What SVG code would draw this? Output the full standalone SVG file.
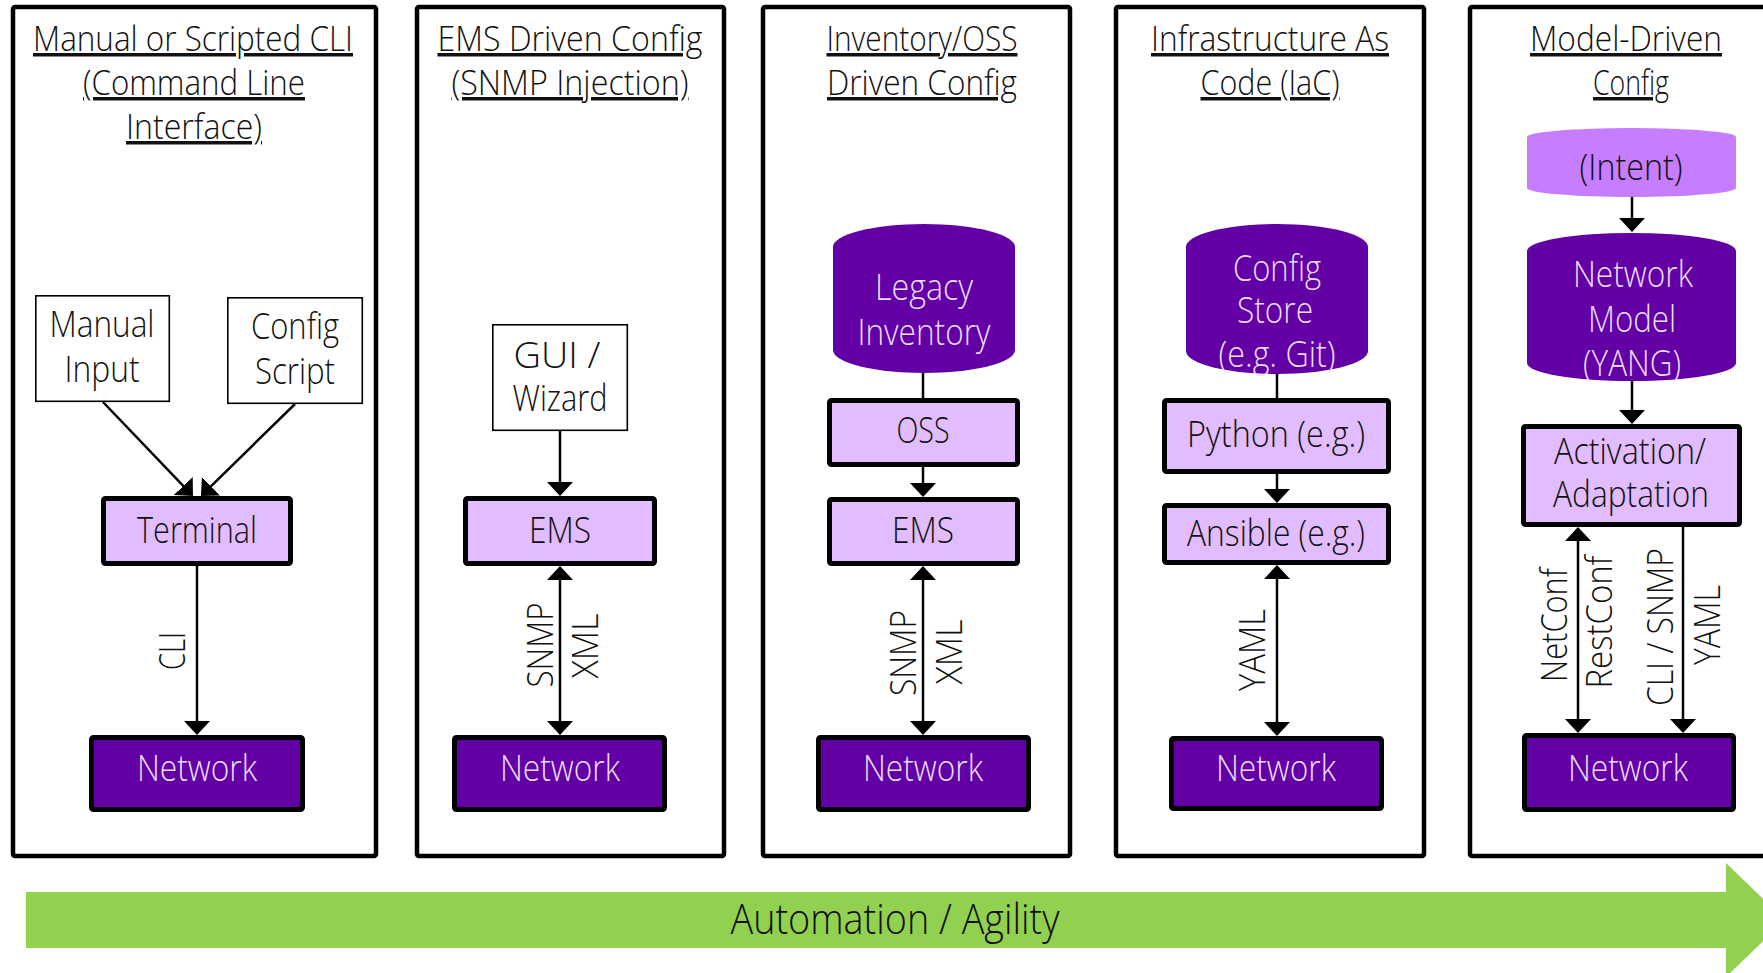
<svg xmlns="http://www.w3.org/2000/svg" width="1763" height="973" viewBox="0 0 1763 973">
<style>
text{font-family:"Open Sans","Liberation Sans",sans-serif;font-weight:300;text-anchor:middle;fill:#111}
.title{font-size:35px;text-decoration:underline;text-decoration-skip-ink:none}
.body{font-size:36px}
.lbl{font-size:36px}
.inv{fill:#ECDFFF}
.panel{fill:#fff;stroke:#000;stroke-width:4.5}
.light{fill:#E1BCFF;stroke:#000;stroke-width:5}
.dark{fill:#6200A6;stroke:#000;stroke-width:5}
.thin{fill:#fff;stroke:#000;stroke-width:1.6}
.db{fill:#6200A6}
.intent{fill:#C77DFF}
.conn line{stroke:#000;stroke-width:2.5;fill:none}
</style>
<defs>
<marker id="ah" markerUnits="userSpaceOnUse" markerWidth="14" markerHeight="26" viewBox="0 0 14 26" refX="12" refY="13" orient="auto-start-reverse">
<path d="M0,0 L14,13 L0,26 Z" fill="#000"/>
</marker>
</defs>

<g id="panels">
<rect id="panel1" class="panel" x="13" y="7" width="363" height="849" rx="2"/>
<rect id="panel2" class="panel" x="417" y="7" width="307" height="849" rx="2"/>
<rect id="panel3" class="panel" x="763" y="7" width="307" height="849" rx="2"/>
<rect id="panel4" class="panel" x="1116" y="7" width="308" height="849" rx="2"/>
<rect id="panel5" class="panel" x="1470" y="7" width="320" height="849" rx="2"/>
</g>

<g id="titles">
<text class="title" x="193" y="51" textLength="320" lengthAdjust="spacingAndGlyphs">Manual or Scripted CLI</text>
<text class="title" x="194" y="95" textLength="222" lengthAdjust="spacingAndGlyphs">(Command Line</text>
<text class="title" x="194" y="139" textLength="136" lengthAdjust="spacingAndGlyphs">Interface)</text>
<text class="title" x="570" y="51" textLength="265" lengthAdjust="spacingAndGlyphs">EMS Driven Config</text>
<text class="title" x="570" y="95" textLength="237" lengthAdjust="spacingAndGlyphs">(SNMP Injection)</text>
<text class="title" x="922" y="51" textLength="191" lengthAdjust="spacingAndGlyphs">Inventory/OSS</text>
<text class="title" x="922" y="95" textLength="190" lengthAdjust="spacingAndGlyphs">Driven Config</text>
<text class="title" x="1270" y="51" textLength="238" lengthAdjust="spacingAndGlyphs">Infrastructure As</text>
<text class="title" x="1270" y="95" textLength="139" lengthAdjust="spacingAndGlyphs">Code (IaC)</text>
<text class="title" x="1626" y="51" textLength="192" lengthAdjust="spacingAndGlyphs">Model-Driven</text>
<text class="title" x="1631" y="95" textLength="76" lengthAdjust="spacingAndGlyphs">Config</text>
</g>

<g id="connectors" class="conn">
<line x1="103" y1="402" x2="191.6" y2="494.6" marker-end="url(#ah)"/>
<line x1="295" y1="404" x2="202.4" y2="494.6" marker-end="url(#ah)"/>
<line x1="197" y1="566" x2="197" y2="733" marker-end="url(#ah)"/>
<line x1="560" y1="431" x2="560" y2="494" marker-end="url(#ah)"/>
<line x1="560" y1="568" x2="560" y2="733" marker-start="url(#ah)" marker-end="url(#ah)"/>
<line x1="923" y1="373" x2="923" y2="398"/>
<line x1="923" y1="467" x2="923" y2="495" marker-end="url(#ah)"/>
<line x1="923" y1="568" x2="923" y2="733" marker-start="url(#ah)" marker-end="url(#ah)"/>
<line x1="1277" y1="374" x2="1277" y2="398"/>
<line x1="1277" y1="474" x2="1277" y2="501" marker-end="url(#ah)"/>
<line x1="1277" y1="567" x2="1277" y2="734" marker-start="url(#ah)" marker-end="url(#ah)"/>
<line x1="1632" y1="197" x2="1632" y2="230" marker-end="url(#ah)"/>
<line x1="1632" y1="381" x2="1632" y2="422" marker-end="url(#ah)"/>
<line x1="1578" y1="529" x2="1578" y2="731" marker-start="url(#ah)" marker-end="url(#ah)"/>
<line x1="1683" y1="527" x2="1683" y2="731" marker-end="url(#ah)"/>
</g>

<g id="connector-labels">
<text class="lbl" x="185" y="651" transform="rotate(-90 185 651)" textLength="38" lengthAdjust="spacingAndGlyphs">CLI</text>
<text class="lbl" x="553" y="645" transform="rotate(-90 553 645)" textLength="85" lengthAdjust="spacingAndGlyphs">SNMP</text>
<text class="lbl" x="598" y="646" transform="rotate(-90 598 646)" textLength="65" lengthAdjust="spacingAndGlyphs">XML</text>
<text class="lbl" x="916" y="653" transform="rotate(-90 916 653)" textLength="86" lengthAdjust="spacingAndGlyphs">SNMP</text>
<text class="lbl" x="962" y="652" transform="rotate(-90 962 652)" textLength="65" lengthAdjust="spacingAndGlyphs">XML</text>
<text class="lbl" x="1265" y="650" transform="rotate(-90 1265 650)" textLength="82" lengthAdjust="spacingAndGlyphs">YAML</text>
<text class="lbl" x="1567" y="625" transform="rotate(-90 1567 625)" textLength="114" lengthAdjust="spacingAndGlyphs">NetConf</text>
<text class="lbl" x="1612" y="622" transform="rotate(-90 1612 622)" textLength="133" lengthAdjust="spacingAndGlyphs">RestConf</text>
<text class="lbl" x="1673" y="627" transform="rotate(-90 1673 627)" textLength="158" lengthAdjust="spacingAndGlyphs">CLI / SNMP</text>
<text class="lbl" x="1720" y="625" transform="rotate(-90 1720 625)" textLength="80" lengthAdjust="spacingAndGlyphs">YAML</text>
</g>

<g id="manual-input">
<rect class="thin" x="35.8" y="295.8" width="133.5" height="105.5"/>
<text class="body" x="102" y="337" textLength="105" lengthAdjust="spacingAndGlyphs">Manual</text>
<text class="body" x="102" y="382" textLength="75" lengthAdjust="spacingAndGlyphs">Input</text>
</g>
<g id="config-script">
<rect class="thin" x="227.8" y="297.8" width="134.5" height="105.5"/>
<text class="body" x="295" y="339" textLength="88" lengthAdjust="spacingAndGlyphs">Config</text>
<text class="body" x="295" y="384" textLength="80" lengthAdjust="spacingAndGlyphs">Script</text>
</g>
<g id="terminal">
<rect class="light" x="103.5" y="498.5" width="187" height="65" rx="2"/>
<text class="body" x="197" y="543" textLength="120" lengthAdjust="spacingAndGlyphs">Terminal</text>
</g>
<g id="network1">
<rect class="dark" x="91.5" y="737.5" width="211" height="72" rx="2"/>
<text class="body inv" x="197" y="781" textLength="120" lengthAdjust="spacingAndGlyphs">Network</text>
</g>

<g id="gui-wizard">
<rect class="thin" x="492.8" y="324.8" width="134.5" height="105.5"/>
<text class="body" x="557" y="368" textLength="87" lengthAdjust="spacingAndGlyphs">GUI /</text>
<text class="body" x="560" y="411" textLength="95" lengthAdjust="spacingAndGlyphs">Wizard</text>
</g>
<g id="ems2">
<rect class="light" x="465.5" y="498.5" width="189" height="65" rx="2"/>
<text class="body" x="560" y="543" textLength="62" lengthAdjust="spacingAndGlyphs">EMS</text>
</g>
<g id="network2">
<rect class="dark" x="454.5" y="737.5" width="210" height="72" rx="2"/>
<text class="body inv" x="560" y="781" textLength="120" lengthAdjust="spacingAndGlyphs">Network</text>
</g>

<g id="legacy-inventory">
<path class="db" d="M833,247 A91,23 0 0 1 1015,247 V350 A91,23 0 0 1 833,350 Z"/>
<text class="body inv" x="924" y="300" textLength="98" lengthAdjust="spacingAndGlyphs">Legacy</text>
<text class="body inv" x="924" y="345" textLength="133" lengthAdjust="spacingAndGlyphs">Inventory</text>
</g>
<g id="oss">
<rect class="light" x="829.5" y="400.5" width="188" height="64" rx="2"/>
<text class="body" x="923" y="443" textLength="53" lengthAdjust="spacingAndGlyphs">OSS</text>
</g>
<g id="ems3">
<rect class="light" x="829.5" y="499.5" width="188" height="64" rx="2"/>
<text class="body" x="923" y="543" textLength="62" lengthAdjust="spacingAndGlyphs">EMS</text>
</g>
<g id="network3">
<rect class="dark" x="818.5" y="737.5" width="210" height="72" rx="2"/>
<text class="body inv" x="923" y="781" textLength="120" lengthAdjust="spacingAndGlyphs">Network</text>
</g>

<g id="config-store">
<path class="db" d="M1186,247 A91,23 0 0 1 1368,247 V351 A91,23 0 0 1 1186,351 Z"/>
<text class="body inv" x="1277" y="281" textLength="88" lengthAdjust="spacingAndGlyphs">Config</text>
<text class="body inv" x="1275" y="323" textLength="76" lengthAdjust="spacingAndGlyphs">Store</text>
<text class="body inv" x="1277" y="367" textLength="117" lengthAdjust="spacingAndGlyphs">(e.g. Git)</text>
</g>
<g id="python">
<rect class="light" x="1164.5" y="400.5" width="224" height="71" rx="2"/>
<text class="body" x="1276" y="447" textLength="178" lengthAdjust="spacingAndGlyphs">Python (e.g.)</text>
</g>
<g id="ansible">
<rect class="light" x="1164.5" y="505.5" width="224" height="57" rx="2"/>
<text class="body" x="1276" y="546" textLength="178" lengthAdjust="spacingAndGlyphs">Ansible (e.g.)</text>
</g>
<g id="network4">
<rect class="dark" x="1171.5" y="738.5" width="210" height="70" rx="2"/>
<text class="body inv" x="1276" y="781" textLength="120" lengthAdjust="spacingAndGlyphs">Network</text>
</g>

<g id="intent">
<path class="intent" d="M1527,137 A104.5,9 0 0 1 1736,137 V188 A104.5,9 0 0 1 1527,188 Z"/>
<text class="body" x="1631" y="180" textLength="103" lengthAdjust="spacingAndGlyphs">(Intent)</text>
</g>
<g id="network-model">
<path class="db" d="M1527,251 A104.5,18 0 0 1 1736,251 V363 A104.5,18 0 0 1 1527,363 Z"/>
<text class="body inv" x="1633" y="287" textLength="120" lengthAdjust="spacingAndGlyphs">Network</text>
<text class="body inv" x="1632" y="332" textLength="88" lengthAdjust="spacingAndGlyphs">Model</text>
<text class="body inv" x="1632" y="376" textLength="98" lengthAdjust="spacingAndGlyphs">(YANG)</text>
</g>
<g id="activation">
<rect class="light" x="1523.5" y="426.5" width="216" height="98" rx="2"/>
<text class="body" x="1630" y="464" textLength="152" lengthAdjust="spacingAndGlyphs">Activation/</text>
<text class="body" x="1631" y="507" textLength="156" lengthAdjust="spacingAndGlyphs">Adaptation</text>
</g>
<g id="network5">
<rect class="dark" x="1524.5" y="735.5" width="209" height="74" rx="2"/>
<text class="body inv" x="1628" y="781" textLength="120" lengthAdjust="spacingAndGlyphs">Network</text>
</g>

<g id="automation-arrow">
<path d="M26,892 H1726 V863 L1785,920 L1726,977 V948 H26 Z" fill="#92D050"/>
<text x="895" y="934" style="font-size:43px" textLength="329" lengthAdjust="spacingAndGlyphs">Automation / Agility</text>
</g>
</svg>
